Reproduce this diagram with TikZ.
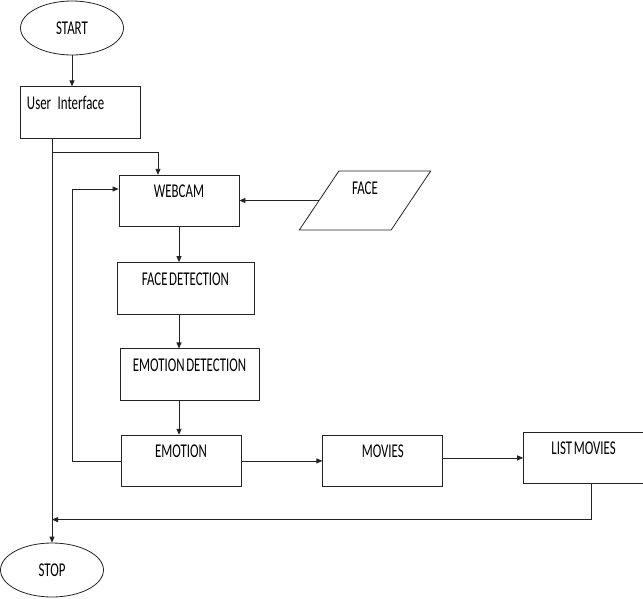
\documentclass[tikz,border=0pt]{standalone}
\usepackage{fontspec}
\setmainfont{Carlito}[FakeStretch=0.66, WordSpace=0.55]
\usetikzlibrary{arrows.meta,positioning,calc,shapes.geometric}
\definecolor{inkgray}{RGB}{35,35,35}
\tikzset{
  procbox/.style={draw=inkgray, line width=0.8pt, minimum width=120pt, minimum height=51.5pt,
                  inner sep=3pt, text height=19.5pt, text depth=26pt},
  termnode/.style={ellipse, draw=inkgray, line width=0.8pt, minimum width=103pt,
                  minimum height=54pt, inner sep=0pt},
  iobox/.style={trapezium, trapezium left angle=67, trapezium right angle=113,
                trapezium stretches=true, draw=inkgray, line width=0.8pt,
                minimum width=132pt, minimum height=59pt, inner sep=3pt,
                text height=19.5pt, text depth=31pt},
  flow/.style={-{Triangle[length=6pt,width=5pt]}, line width=0.8pt, draw=inkgray},
}
\begin{document}
\begin{tikzpicture}[x=1pt, y=-1pt, font=\fontsize{19.5}{22}\selectfont]
  \useasboundingbox (0,0) rectangle (643,598);
  \node[termnode] (start) at (72,28) {START};
  \node[procbox, text width=106pt, inner xsep=7pt, align=left] (ui) at (80,112.5) {\mbox{User Interface}};
  \node[procbox] (webcam) at (179,201) {WEBCAM};
  \node[iobox] (face) at (365,200.5) {FACE};
  \node[procbox, minimum width=137pt, below=35pt of webcam, xshift=6.5pt] (fdet) {FACE DETECTION};
  \node[procbox, minimum width=139pt, below=34pt of fdet, xshift=4pt] (edet) {EMOTION DETECTION};
  \node[procbox, below=34pt of edet, xshift=-8.5pt] (emotion) {EMOTION};
  \node[procbox, right=81pt of emotion] (movies) {MOVIES};
  \node[procbox, right=80pt of movies, yshift=3pt] (list) {LIST MOVIES};
  \node[termnode] (stop) at (52,570) {STOP};

  \coordinate (split) at ($(ui.south -| stop.north)+(0,14)$);
  \coordinate (merge) at ($(stop.north)+(0,-23)$);

  \draw[flow] (start.south) -- (start.south |- ui.north);
  \draw[flow] (ui.south -| stop.north) -- (stop.north);
  \draw[flow] (split) -| ($(webcam.north)+(-21,0)$);
  \draw[flow] (face.west) -- (face.west -| webcam.east);
  \draw[flow] (webcam.south) -- (webcam.south |- fdet.north);
  \draw[flow] (webcam.south |- fdet.south) -- (webcam.south |- edet.north);
  \draw[flow] (webcam.south |- edet.south) -- (webcam.south |- emotion.north);
  \draw[flow] (emotion.west) -- ++(-48,0) |- ($(webcam.west)+(0,-12)$);
  \draw[flow] (emotion.east) -- (movies.west);
  \draw[flow] (movies.east |- list.west) -- (list.west);
  \draw[flow] ($(list.south)+(8,0)$) |- (merge);
\end{tikzpicture}
\end{document}
